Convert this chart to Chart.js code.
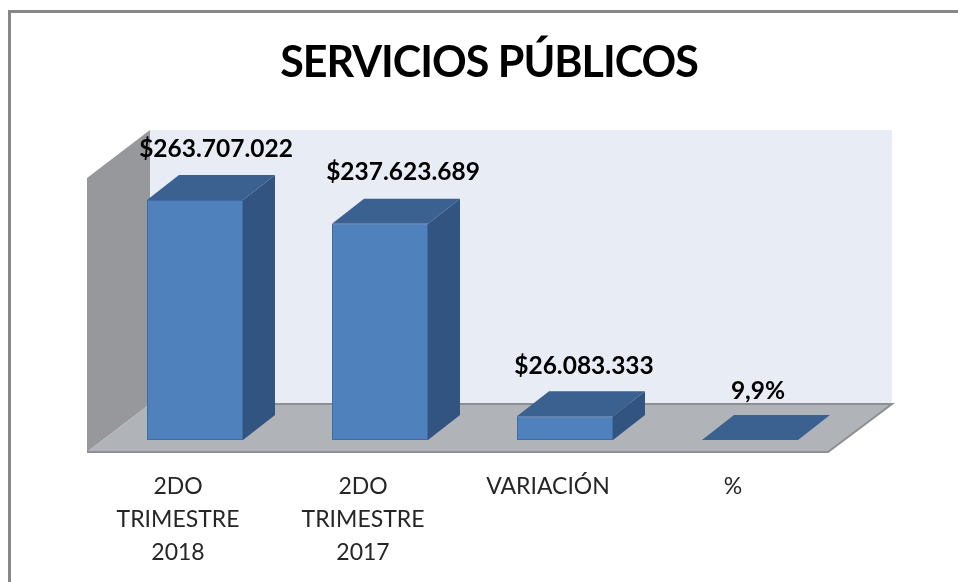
<!DOCTYPE html>
<html>
<head>
<meta charset="utf-8">
<title>Servicios públicos</title>
<script src="https://cdn.jsdelivr.net/npm/chart.js@4/dist/chart.umd.min.js"></script>
<style>
    html, body { margin: 0; padding: 0; background: #fff; overflow: hidden; }
    canvas { display: block; }
</style>
</head>
<body>
<canvas id="serviciosChart" width="958" height="582"></canvas>
<script>
const categories = [['2DO', 'TRIMESTRE', '2018'], ['2DO', 'TRIMESTRE', '2017'], 'VARIACIÓN', '%'];
const values = [263707022, 237623689, 26083333, 9.9];
const valueLabels = ['$263.707.022', '$237.623.689', '$26.083.333', '9,9%'];
const chartTitle = 'SERVICIOS PÚBLICOS';

// label offsets from the front face of each bar
const labelShiftX = [21, 23, 19, 8];
const labelShiftY = [-51, -52, -50, -49];

const BAR_DX = 32, BAR_DY = 25;
const FLOOR_DX = 63, FLOOR_DY = 48;

function poly(ctx, points, fill) {
    ctx.beginPath();
    points.forEach((p, i) => (i ? ctx.lineTo(p[0], p[1]) : ctx.moveTo(p[0], p[1])));
    ctx.closePath();
    ctx.fillStyle = fill;
    ctx.fill();
}

const scenePlugin = {
    id: 'scene',
    beforeDatasetsDraw(chart) {
        const ctx = chart.ctx;
        const area = chart.chartArea;
        const zero = chart.scales.y.getPixelForValue(0);

        // outer frame
        ctx.save();
        ctx.strokeStyle = '#878787';
        ctx.lineWidth = 3;
        ctx.beginPath();
        ctx.moveTo(9.5, 582);
        ctx.lineTo(9.5, 11.5);
        ctx.lineTo(958, 11.5);
        ctx.stroke();

        // walls and floor
        const x0 = area.left - 15.5, x1 = area.right - 14.5, yf = zero + 12;
        const wallTop = 130;
        poly(ctx, [[x0 + FLOOR_DX, wallTop], [x1 + FLOOR_DX + 1, wallTop], [x1 + FLOOR_DX + 1, yf - FLOOR_DY], [x0 + FLOOR_DX, yf - FLOOR_DY]], '#e8ecf5');
        poly(ctx, [[x0, wallTop + FLOOR_DY], [x0 + FLOOR_DX, wallTop], [x0 + FLOOR_DX, yf - FLOOR_DY], [x0, yf]], '#97989b');
        poly(ctx, [[x0, yf], [x1, yf], [x1 + FLOOR_DX + 1, yf - FLOOR_DY], [x0 + FLOOR_DX, yf - FLOOR_DY]], '#b0b3b7');
        ctx.strokeStyle = '#8d8f92';
        ctx.lineWidth = 2;
        ctx.beginPath();
        ctx.moveTo(x0, yf);
        ctx.lineTo(x1, yf);
        ctx.lineTo(x1 + FLOOR_DX + 1, yf - FLOOR_DY);
        ctx.lineTo(x0 + FLOOR_DX, yf - FLOOR_DY);
        ctx.stroke();

        // bar depth
        chart.getDatasetMeta(0).data.forEach(bar => {
            const l = bar.x - bar.width / 2, r = bar.x + bar.width / 2;
            poly(ctx, [[r, bar.y], [r + BAR_DX, bar.y - BAR_DY], [r + BAR_DX, bar.base - BAR_DY], [r, bar.base]], '#325480');
            poly(ctx, [[l, bar.y], [l + BAR_DX, bar.y - BAR_DY], [r + BAR_DX, bar.y - BAR_DY], [r, bar.y]], '#3a6190');
        });
        ctx.restore();
    },
    afterDatasetsDraw(chart) {
        const ctx = chart.ctx;
        ctx.save();
        ctx.fillStyle = '#000';
        ctx.textAlign = 'center';
        ctx.textBaseline = 'middle';
        ctx.font = 'bold 24.5px Lato';
        chart.getDatasetMeta(0).data.forEach((bar, i) => {
            ctx.fillText(valueLabels[i], bar.x + labelShiftX[i], bar.y + labelShiftY[i]);
        });
        ctx.font = 'bold 43px Lato';
        ctx.letterSpacing = '-1px';
        ctx.fillText(chartTitle, 489, 63);
        ctx.restore();
    }
};

new Chart(document.getElementById('serviciosChart').getContext('2d'), {
    type: 'bar',
    data: {
        labels: categories,
        datasets: [{
            data: values,
            backgroundColor: '#4f81bd',
            borderColor: '#3f6da3',
            borderWidth: 1,
            borderSkipped: false,
            categoryPercentage: 1,
            barPercentage: 0.519
        }]
    },
    options: {
        responsive: false,
        animation: false,
        layout: { padding: { left: 102.5, right: 115.5, top: 167, bottom: 0 } },
        plugins: {
            legend: { display: false },
            tooltip: { enabled: false }
        },
        scales: {
            x: {
                grid: { display: false },
                border: { display: false },
                afterFit: scale => { scale.height = 142; },
                ticks: {
                    color: '#262626',
                    font: { family: 'Lato', size: 23, lineHeight: 1.43 },
                    padding: 22,
                    labelOffset: -17,
                    maxRotation: 0,
                    autoSkip: false
                }
            },
            y: {
                display: false,
                min: 0,
                max: 300000000
            }
        }
    },
    plugins: [scenePlugin]
});
</script>
</body>
</html>
